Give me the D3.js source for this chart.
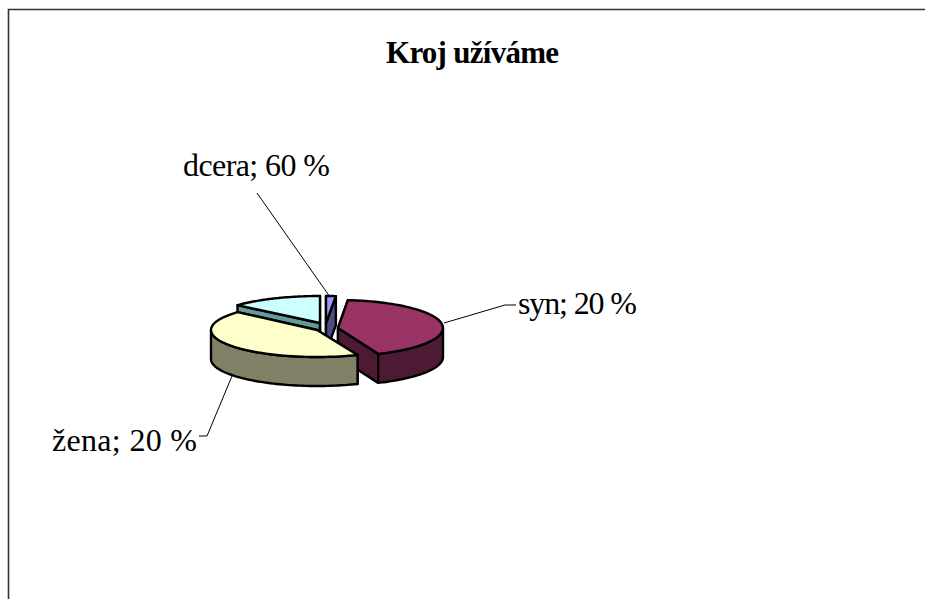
<!DOCTYPE html>
<html><head><meta charset="utf-8">
<script src="https://cdn.jsdelivr.net/npm/d3@7/dist/d3.min.js"></script>
<style>html,body{margin:0;padding:0;background:#fff}svg{display:block}text{font-family:"Liberation Serif",serif;fill:#000}</style>
</head><body><svg id="c" width="925" height="599"></svg>
<script>
const title = "Kroj užíváme";
const categories = ["dcera", "syn", "žena", "ostatní"];
const sliceShares = [1.5, 42.25, 42.75, 13.5];
const labelPercents = [60, 20, 20, null];
const topColors = ["#9999ff", "#993366", "#ffffcc", "#ccffff"];
const wallColors = ["#4d4d80", "#4d1a33", "#808066", "#669999"];

const svg = d3.select("#c");
svg.append("path").attr("d","M8.5 599V9.5H925").attr("fill","none").attr("stroke","#333").attr("stroke-width",1.6);
svg.append("text").attr("x",386).attr("y",63)
  .attr("font-weight","bold").attr("font-size",31).attr("textLength",173).attr("lengthAdjust","spacing").text(title);

const pie = d3.pie().sort(null).value(d=>d.v);
const arcs = pie(categories.map((c,i)=>({c,v:sliceShares[i],i})));
const unit = d3.scaleLinear().domain([-1,1]).range([-1,1]);
const depth = 29;
const centers = [
  {x:326,y:323,rx:105,ry:27},
  {x:338,y:328,rx:105,ry:28},
  {x:317,y:330,rx:106,ry:27},
  {x:320,y:323,rx:110,ry:27}
];
const pt = (c,t,d=0)=>[c.x+c.rx*unit(Math.sin(t)), c.y+c.ry*unit(-Math.cos(t))+d];
const line = d3.line();
const order = [3,0,1,2];
const g = svg.append("g").attr("stroke","#000").attr("stroke-width",2.4).attr("stroke-linejoin","round");
const sweep = (a,b)=>d3.range(0,61).map(k=>a+(b-a)*k/60);
order.forEach(i=>{
  const a = arcs[i], c = centers[i];
  const rim = sweep(a.startAngle,a.endAngle).map(t=>pt(c,t));
  const f0 = Math.max(a.startAngle,Math.PI/2), f1 = Math.min(a.endAngle,3*Math.PI/2);
  [a.startAngle,a.endAngle].forEach(t=>{
    g.append("path").attr("fill",wallColors[i])
     .attr("d",line([[c.x,c.y],pt(c,t),pt(c,t,depth),[c.x,c.y+depth]])+"Z");
  });
  if(f1>f0){
    const front = sweep(f0,f1);
    g.append("path").attr("fill",wallColors[i])
     .attr("d",line(front.map(t=>pt(c,t)).concat(front.slice().reverse().map(t=>pt(c,t,depth))))+"Z");
  }
  g.append("path").attr("d",line([[c.x,c.y],...rim])+"Z").attr("fill",topColors[i]);
});

const labels = [
 {i:0,x:183,y:176,w:147,pts:[[257,193],[330,297]]},
 {i:1,x:518,y:314,w:119,pts:[[444,323],[505,305],[516,305]]},
 {i:2,x:52,y:451,w:145,pts:[[232,376],[207,436],[199,436]]}
];
labels.forEach(l=>{
  svg.append("path").attr("d",line(l.pts)).attr("fill","none").attr("stroke","#000").attr("stroke-width",1);
  svg.append("text").attr("x",l.x).attr("y",l.y).attr("font-size",32)
    .attr("textLength",l.w).attr("lengthAdjust","spacing")
    .text(`${categories[l.i]}; ${labelPercents[l.i]} %`);
});
</script></body></html>
